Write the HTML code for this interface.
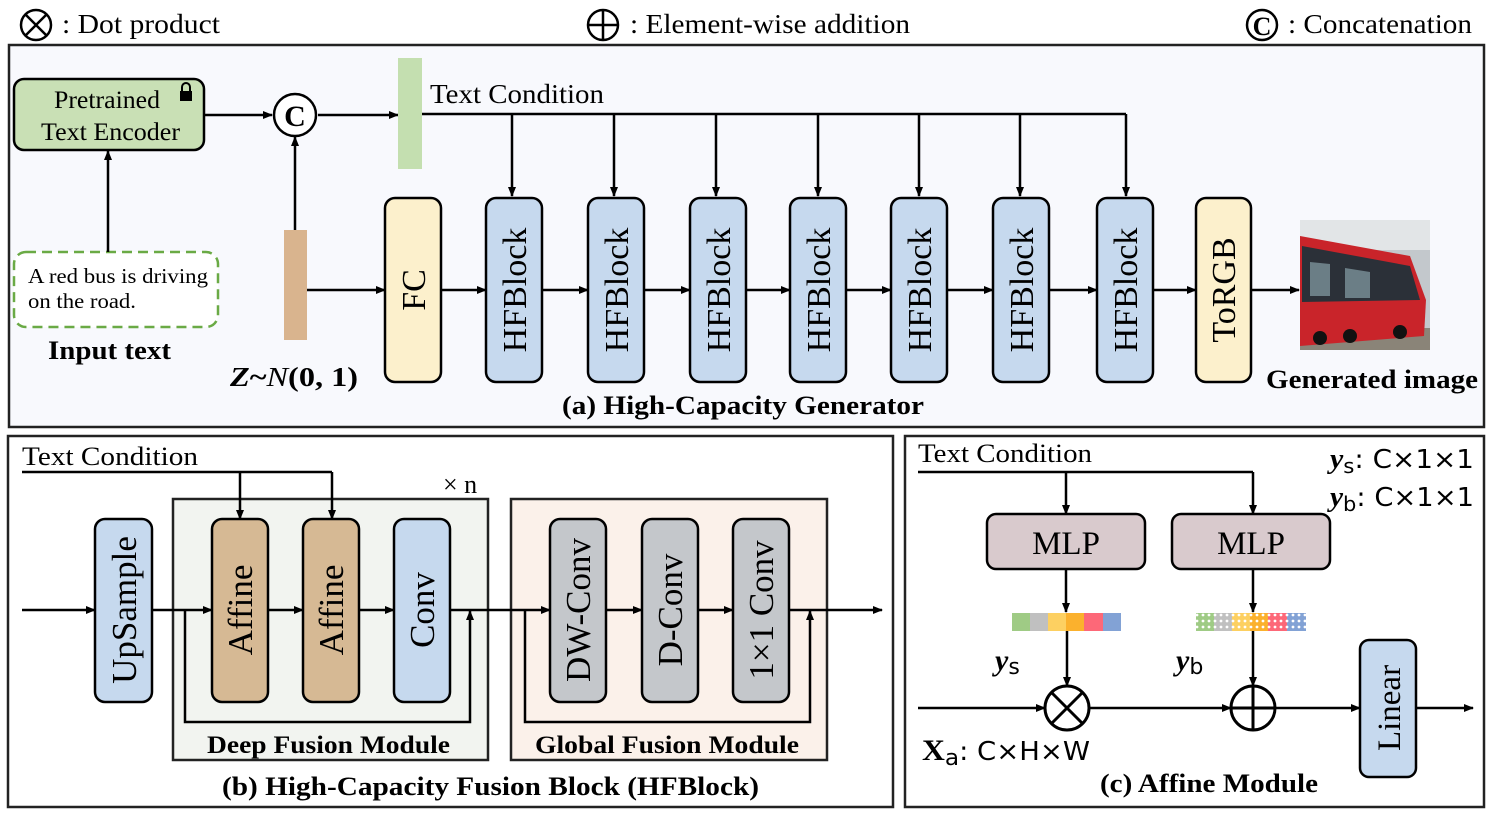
<!DOCTYPE html>
<html><head><meta charset="utf-8"><style>
html,body{margin:0;padding:0;background:#fff;}
svg{display:block;font-family:"Liberation Serif",serif;}
</style></head><body>
<svg width="1495" height="813" viewBox="0 0 1495 813" xmlns="http://www.w3.org/2000/svg">
<defs>
<marker id="a" markerWidth="10" markerHeight="10" refX="9" refY="5" orient="auto" markerUnits="userSpaceOnUse"><path d="M0,1 L10,5 L0,9 z" fill="#000"/></marker>
<pattern id="dots" width="6" height="6" patternUnits="userSpaceOnUse"><circle cx="3" cy="3" r="1.4" fill="#fff"/></pattern>
</defs>
<!-- legend -->
<g stroke="#000" stroke-width="2.5" fill="none">
<circle cx="36" cy="25" r="15"/><path d="M25,14 L47,36 M47,14 L25,36"/>
<circle cx="603" cy="25" r="15"/><path d="M588,25 H618 M603,10 V40"/>
<circle cx="1262" cy="25" r="15"/>
</g>
<text x="1262" y="35" font-size="26" font-weight="bold" text-anchor="middle">C</text>
<text x="62" y="33" font-size="27" textLength="158" lengthAdjust="spacingAndGlyphs">: Dot product</text>
<text x="630" y="33" font-size="27" textLength="280" lengthAdjust="spacingAndGlyphs">: Element-wise addition</text>
<text x="1288" y="33" font-size="27" textLength="184" lengthAdjust="spacingAndGlyphs">: Concatenation</text>

<!-- panel a -->
<rect x="9" y="45" width="1475" height="382" fill="#f8f9fd" stroke="#222" stroke-width="2.5"/>
<rect x="14" y="79" width="190" height="71" rx="10" fill="#c9e0b5" stroke="#000" stroke-width="2.5"/>
<text x="54" y="108" font-size="25" textLength="106" lengthAdjust="spacingAndGlyphs">Pretrained</text>
<text x="41" y="140" font-size="25" textLength="139" lengthAdjust="spacingAndGlyphs">Text Encoder</text>
<rect x="180" y="91" width="12" height="10" fill="#000"/><path d="M182,92 V87 a4,4 0 0 1 8,0 V92" stroke="#000" stroke-width="2" fill="none"/>
<rect x="14" y="252" width="204" height="75" rx="12" fill="#fff" stroke="#6aaa45" stroke-width="2.5" stroke-dasharray="10,6"/>
<text x="28" y="283" font-size="21" textLength="180" lengthAdjust="spacingAndGlyphs">A red bus is driving</text>
<text x="28" y="308" font-size="21" textLength="108" lengthAdjust="spacingAndGlyphs">on the road.</text>
<text x="48" y="359" font-size="26" font-weight="bold" textLength="123" lengthAdjust="spacingAndGlyphs">Input text</text>
<g stroke="#000" stroke-width="2.5" fill="none">
<path d="M108,252 V151" marker-end="url(#a)"/>
<path d="M204,115 H272" marker-end="url(#a)"/>
<circle cx="295" cy="115" r="21" fill="#fff"/>
<path d="M318,115 H398" marker-end="url(#a)"/>
<path d="M295,230 V137" marker-end="url(#a)"/>
<path d="M422,114 H1126"/>
<path d="M512,114 V196" marker-end="url(#a)"/>
<path d="M614,114 V196" marker-end="url(#a)"/>
<path d="M716,114 V196" marker-end="url(#a)"/>
<path d="M818,114 V196" marker-end="url(#a)"/>
<path d="M919,114 V196" marker-end="url(#a)"/>
<path d="M1020,114 V196" marker-end="url(#a)"/>
<path d="M1126,114 V196" marker-end="url(#a)"/>
<path d="M307,290 H385" marker-end="url(#a)"/>
<path d="M441,290 H486" marker-end="url(#a)"/>
<path d="M542,290 H588" marker-end="url(#a)"/>
<path d="M644,290 H690" marker-end="url(#a)"/>
<path d="M746,290 H790" marker-end="url(#a)"/>
<path d="M846,290 H891" marker-end="url(#a)"/>
<path d="M947,290 H993" marker-end="url(#a)"/>
<path d="M1049,290 H1097" marker-end="url(#a)"/>
<path d="M1153,290 H1196" marker-end="url(#a)"/>
<path d="M1251,290 H1299" marker-end="url(#a)"/>
</g>
<text x="295" y="126" font-size="30" font-weight="bold" text-anchor="middle">C</text>
<rect x="398" y="58" width="24" height="111" fill="#c4dfb0"/>
<text x="430" y="103" font-size="27" textLength="174" lengthAdjust="spacingAndGlyphs">Text Condition</text>
<rect x="284" y="230" width="23" height="110" fill="#d9b48e"/>
<text x="230" y="386" font-size="27" font-weight="bold" textLength="128" lengthAdjust="spacingAndGlyphs"><tspan font-style="italic">Z</tspan>~<tspan font-style="italic" font-weight="normal">N</tspan>(0, 1)</text>
<g stroke="#000" stroke-width="2.5">
<rect x="385" y="198" width="56" height="184" rx="10" fill="#fcf0cc"/>
<rect x="486" y="198" width="56" height="184" rx="10" fill="#c6d9ee"/>
<rect x="588" y="198" width="56" height="184" rx="10" fill="#c6d9ee"/>
<rect x="690" y="198" width="56" height="184" rx="10" fill="#c6d9ee"/>
<rect x="790" y="198" width="56" height="184" rx="10" fill="#c6d9ee"/>
<rect x="891" y="198" width="56" height="184" rx="10" fill="#c6d9ee"/>
<rect x="993" y="198" width="56" height="184" rx="10" fill="#c6d9ee"/>
<rect x="1097" y="198" width="56" height="184" rx="10" fill="#c6d9ee"/>
<rect x="1196" y="198" width="55" height="184" rx="10" fill="#fcf0cc"/>
</g>
<g font-size="34" text-anchor="middle">
<text transform="translate(425,290) rotate(-90)">FC</text>
<text transform="translate(526,290) rotate(-90)">HFBlock</text>
<text transform="translate(628,290) rotate(-90)">HFBlock</text>
<text transform="translate(730,290) rotate(-90)">HFBlock</text>
<text transform="translate(830,290) rotate(-90)">HFBlock</text>
<text transform="translate(931,290) rotate(-90)">HFBlock</text>
<text transform="translate(1033,290) rotate(-90)">HFBlock</text>
<text transform="translate(1137,290) rotate(-90)">HFBlock</text>
<text transform="translate(1235,290) rotate(-90)">ToRGB</text>
</g>
<!-- bus image -->
<rect x="1300" y="220" width="130" height="130" fill="#c3c8cc"/>
<rect x="1300" y="220" width="130" height="30" fill="#e2e5e7"/>
<rect x="1300" y="328" width="130" height="22" fill="#8a8478"/>
<path d="M1300,236 L1410,256 L1426,300 L1424,336 L1300,346 z" fill="#c9242a"/>
<path d="M1302,246 L1410,266 L1420,300 L1302,302 z" fill="#2b3038"/>
<path d="M1310,262 L1330,264 L1330,296 L1310,296 z M1345,268 L1370,272 L1370,298 L1345,298 z" fill="#6b7e86"/>
<circle cx="1320" cy="338" r="7" fill="#111"/><circle cx="1350" cy="336" r="7" fill="#111"/><circle cx="1400" cy="332" r="7" fill="#111"/>
<text x="1266" y="388" font-size="26" font-weight="bold" textLength="212" lengthAdjust="spacingAndGlyphs">Generated image</text>
<text x="562" y="414" font-size="26" font-weight="bold" textLength="362" lengthAdjust="spacingAndGlyphs">(a) High-Capacity Generator</text>

<!-- panel b -->
<rect x="8" y="436" width="885" height="371" fill="#fff" stroke="#222" stroke-width="2.5"/>
<text x="22" y="465" font-size="26" textLength="176" lengthAdjust="spacingAndGlyphs">Text Condition</text>
<rect x="173" y="499" width="315" height="261" fill="#f2f4f0" stroke="#222" stroke-width="2.5"/>
<rect x="511" y="499" width="316" height="261" fill="#fbf1ea" stroke="#222" stroke-width="2.5"/>
<text x="443" y="493" font-size="26">× n</text>
<g stroke="#000" stroke-width="2.5" fill="none">
<path d="M22,472 H332"/>
<path d="M240,472 V519" marker-end="url(#a)"/>
<path d="M332,472 V519" marker-end="url(#a)"/>
<path d="M22,610 H95" marker-end="url(#a)"/>
<path d="M152,610 H212" marker-end="url(#a)"/>
<path d="M268,610 H303" marker-end="url(#a)"/>
<path d="M359,610 H394" marker-end="url(#a)"/>
<path d="M450,610 H550" marker-end="url(#a)"/>
<path d="M606,610 H642" marker-end="url(#a)"/>
<path d="M698,610 H733" marker-end="url(#a)"/>
<path d="M789,610 H882" marker-end="url(#a)"/>
<path d="M185,610 V722 H470 V611" marker-end="url(#a)"/>
<path d="M525,610 V722 H810 V611" marker-end="url(#a)"/>
</g>
<g stroke="#000" stroke-width="2.5">
<rect x="95" y="519" width="57" height="183" rx="10" fill="#c6d9ee"/>
<rect x="212" y="519" width="56" height="183" rx="10" fill="#d6b994"/>
<rect x="303" y="519" width="56" height="183" rx="10" fill="#d6b994"/>
<rect x="394" y="519" width="56" height="183" rx="10" fill="#c6d9ee"/>
<rect x="550" y="519" width="56" height="183" rx="10" fill="#c4c7cb"/>
<rect x="642" y="519" width="56" height="183" rx="10" fill="#c4c7cb"/>
<rect x="733" y="519" width="56" height="183" rx="10" fill="#c4c7cb"/>
</g>
<g font-size="35" text-anchor="middle">
<text transform="translate(136,610) rotate(-90)">UpSample</text>
<text transform="translate(252,610) rotate(-90)">Affine</text>
<text transform="translate(343,610) rotate(-90)">Affine</text>
<text transform="translate(434,610) rotate(-90)">Conv</text>
<text transform="translate(590,610) rotate(-90)">DW-Conv</text>
<text transform="translate(682,610) rotate(-90)">D-Conv</text>
<text transform="translate(773,610) rotate(-90)">1×1 Conv</text>
</g>
<text x="207" y="753" font-size="25" font-weight="bold" textLength="243" lengthAdjust="spacingAndGlyphs">Deep Fusion Module</text>
<text x="535" y="753" font-size="25" font-weight="bold" textLength="264" lengthAdjust="spacingAndGlyphs">Global Fusion Module</text>
<text x="222" y="795" font-size="26" font-weight="bold" textLength="537" lengthAdjust="spacingAndGlyphs">(b) High-Capacity Fusion Block (HFBlock)</text>

<!-- panel c -->
<rect x="905" y="436" width="579" height="371" fill="#fff" stroke="#222" stroke-width="2.5"/>
<text x="918" y="462" font-size="26" textLength="174" lengthAdjust="spacingAndGlyphs">Text Condition</text>
<text x="1330" y="468" font-size="28" textLength="144" lengthAdjust="spacingAndGlyphs"><tspan font-weight="bold" font-style="italic">y</tspan><tspan font-size="20" dy="5" font-family="DejaVu Sans, sans-serif">s</tspan><tspan dy="-5" font-family="DejaVu Sans, sans-serif" font-size="26">: C×1×1</tspan></text>
<text x="1330" y="506" font-size="28" textLength="144" lengthAdjust="spacingAndGlyphs"><tspan font-weight="bold" font-style="italic">y</tspan><tspan font-size="20" dy="5" font-family="DejaVu Sans, sans-serif">b</tspan><tspan dy="-5" font-family="DejaVu Sans, sans-serif" font-size="26">: C×1×1</tspan></text>
<g stroke="#000" stroke-width="2.5" fill="none">
<path d="M918,472 H1253"/>
<path d="M1066,472 V514" marker-end="url(#a)"/>
<path d="M1253,472 V514" marker-end="url(#a)"/>
<path d="M1066,569 V612" marker-end="url(#a)"/>
<path d="M1253,569 V612" marker-end="url(#a)"/>
<path d="M1067,631 V686" marker-end="url(#a)"/>
<path d="M1253,631 V686" marker-end="url(#a)"/>
<path d="M918,708 H1045" marker-end="url(#a)"/>
<path d="M1089,708 H1231" marker-end="url(#a)"/>
<path d="M1275,708 H1360" marker-end="url(#a)"/>
<path d="M1416,708 H1473" marker-end="url(#a)"/>
<circle cx="1067" cy="708" r="22" stroke-width="3"/><path d="M1051,692 L1083,724 M1083,692 L1051,724" stroke-width="3"/>
<circle cx="1253" cy="708" r="22" stroke-width="3"/><path d="M1231,708 H1275 M1253,686 V730" stroke-width="3"/>
</g>
<g stroke="#000" stroke-width="2.5">
<rect x="987" y="514" width="158" height="55" rx="9" fill="#d9cacd"/>
<rect x="1172" y="514" width="158" height="55" rx="9" fill="#d9cacd"/>
<rect x="1360" y="640" width="56" height="137" rx="9" fill="#c6d9ee"/>
</g>
<text x="1066" y="554" font-size="33" text-anchor="middle">MLP</text>
<text x="1251" y="554" font-size="33" text-anchor="middle">MLP</text>
<text transform="translate(1400,708) rotate(-90)" font-size="33" text-anchor="middle">Linear</text>
<g>
<rect x="1012" y="613" width="18" height="18" fill="#9fcb85"/><rect x="1030" y="613" width="18" height="18" fill="#c0c0c0"/><rect x="1048" y="613" width="18" height="18" fill="#fdd061"/><rect x="1066" y="613" width="18" height="18" fill="#fbb12d"/><rect x="1084" y="613" width="19" height="18" fill="#fd6878"/><rect x="1103" y="613" width="18" height="18" fill="#82a2d5"/>
<rect x="1196" y="613" width="18" height="18" fill="#9fcb85"/><rect x="1214" y="613" width="18" height="18" fill="#c0c0c0"/><rect x="1232" y="613" width="18" height="18" fill="#fdd061"/><rect x="1250" y="613" width="18" height="18" fill="#fbb12d"/><rect x="1268" y="613" width="19" height="18" fill="#fd6878"/><rect x="1287" y="613" width="19" height="18" fill="#82a2d5"/>
<rect x="1196" y="613" width="110" height="18" fill="url(#dots)"/>
</g>
<text x="995" y="670" font-size="30"><tspan font-weight="bold" font-style="italic">y</tspan><tspan font-size="22" dy="4" font-family="DejaVu Sans, sans-serif">s</tspan></text>
<text x="1176" y="670" font-size="30"><tspan font-weight="bold" font-style="italic">y</tspan><tspan font-size="22" dy="4" font-family="DejaVu Sans, sans-serif">b</tspan></text>
<text x="922" y="760" font-size="30" textLength="168" lengthAdjust="spacingAndGlyphs"><tspan font-weight="bold">X</tspan><tspan font-size="22" dy="5" font-family="DejaVu Sans, sans-serif">a</tspan><tspan dy="-5" font-family="DejaVu Sans, sans-serif" font-size="26">: C×H×W</tspan></text>
<text x="1100" y="792" font-size="26" font-weight="bold" textLength="218" lengthAdjust="spacingAndGlyphs">(c) Affine Module</text>
</svg>
</body></html>
